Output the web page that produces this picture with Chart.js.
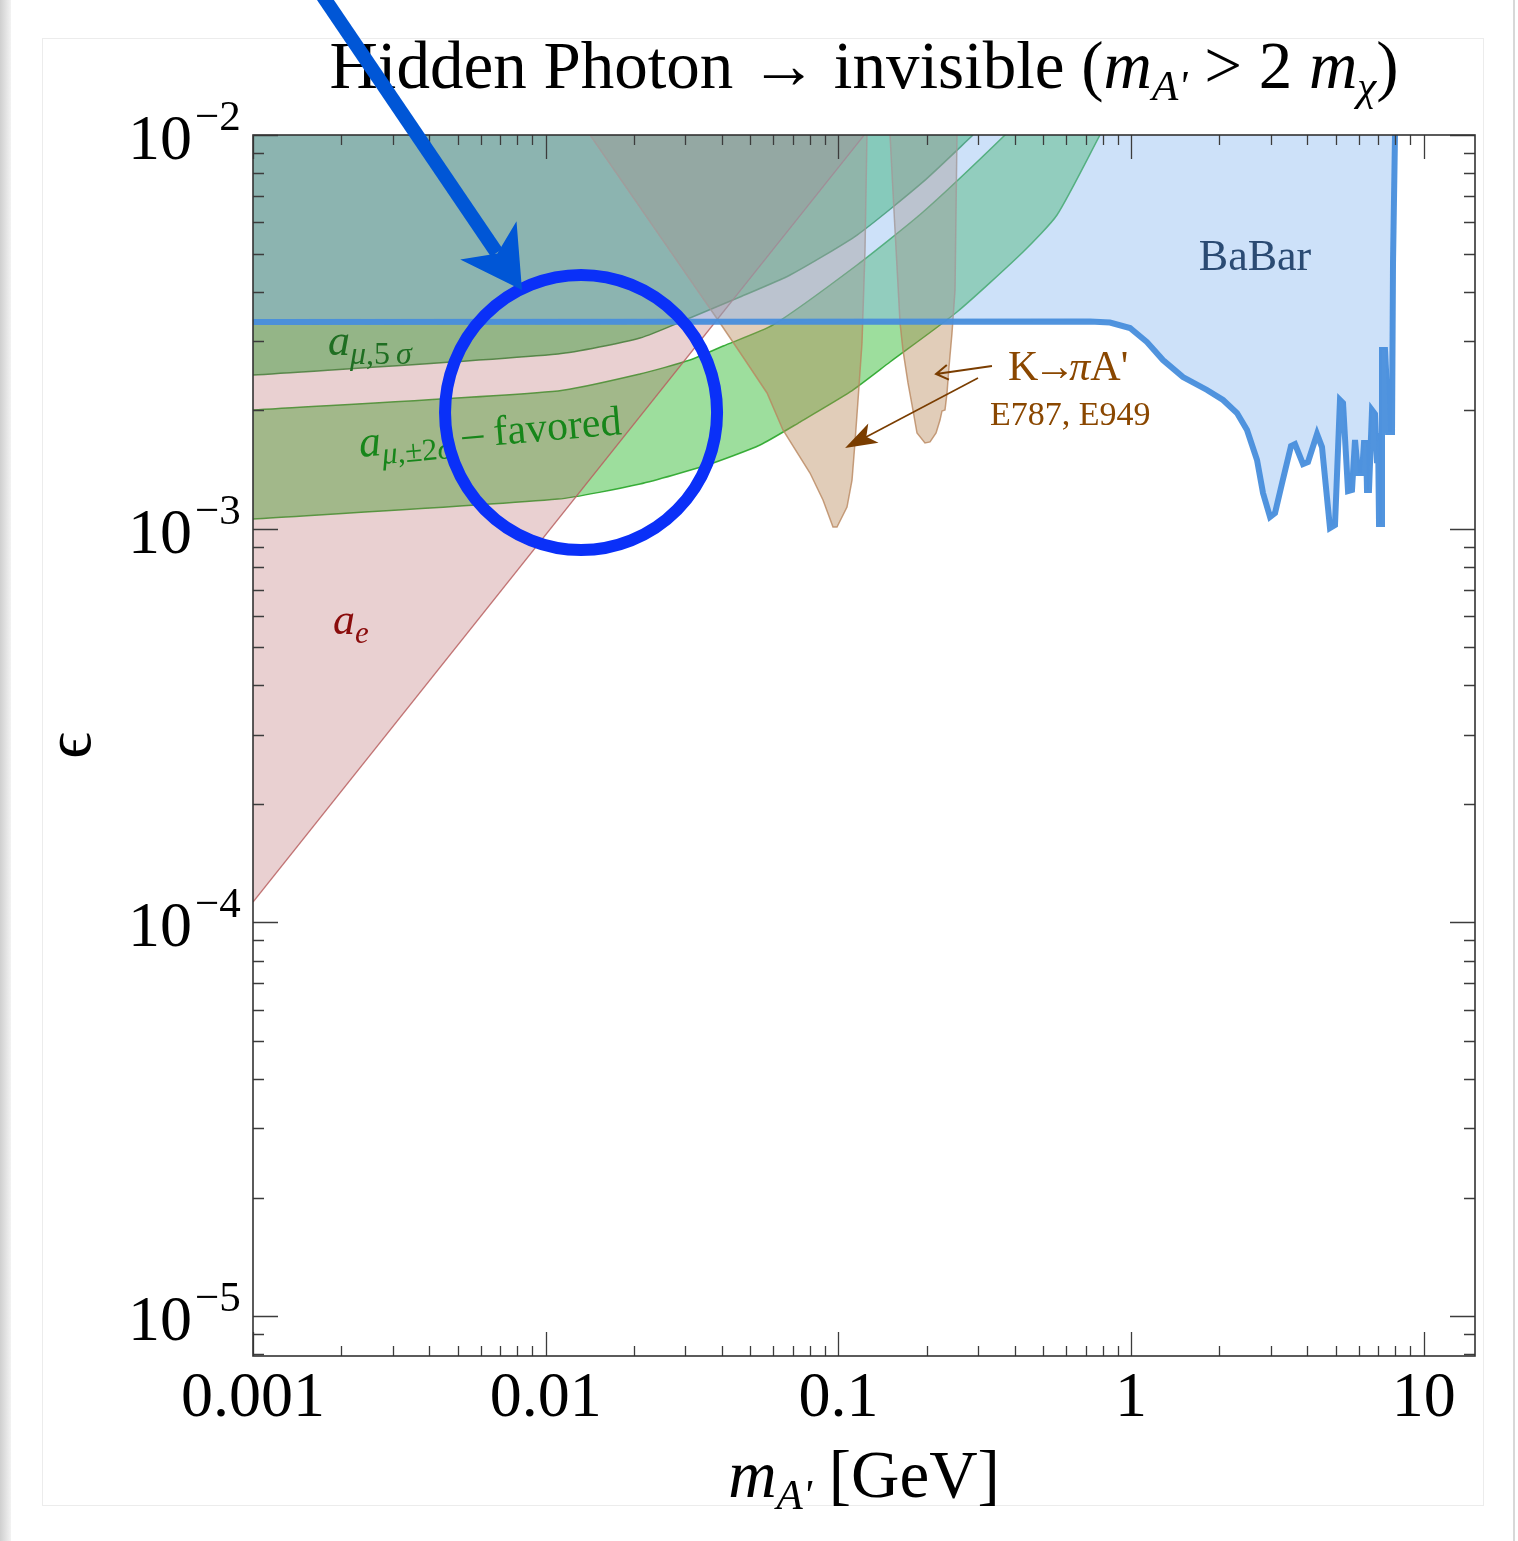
<!DOCTYPE html>
<html>
<head>
<meta charset="utf-8">
<title>Hidden Photon → invisible</title>
<script src="https://cdn.jsdelivr.net/npm/chart.js"></script>
<style>
  html, body { margin: 0; padding: 0; background: #fff; }
  #page { position: relative; width: 1518px; height: 1541px; overflow: hidden; background: #fff; }
  #page .rim { position: absolute; }
  #chart { position: absolute; left: 0; top: 0; }
</style>
</head>
<body>
<div id="page">
  <div class="rim" style="left:0;top:0;width:11px;height:1541px;background:linear-gradient(to right,#cfcfcf,#f3f3f3)"></div>
  <div class="rim" style="left:1513px;top:0;width:2px;height:1541px;background:#d8d8d8"></div>
  <div class="rim" style="left:42px;top:38px;width:1440px;height:1466px;border:1px solid #ececec"></div>
  <canvas id="chart" width="1518" height="1541"></canvas>
</div>
<script>
// axis ranges: mass in GeV, kinetic mixing epsilon
const xMin = 0.001, xMax = 14.96;
const yMin = 7.92e-6, yMax = 0.01;

const xTickValues = [0.001, 0.01, 0.1, 1, 10];
const xTickLabels = ['0.001', '0.01', '0.1', '1', '10'];
const yTickValues = [1e-2, 1e-3, 1e-4, 1e-5];
const yTickExps = ['\u22122', '\u22123', '\u22124', '\u22125'];

// region boundaries as [mass, epsilon]
const aeLine = [[0.001, 1.127e-4], [0.1225, 0.01]];

const mu5Lower = [[0.001, 2.457e-3], [0.01102, 2.778e-3], [0.021, 3.051e-3], [0.0311, 3.429e-3],
  [0.0461, 3.878e-3], [0.0684, 4.41e-3], [0.1158, 5.57e-3], [0.1946, 7.6e-3], [0.2884, 0.01]];

const mu2Upper = [[0.0009, 1.99e-3], [0.001, 2.002e-3], [0.01102, 2.238e-3], [0.021, 2.471e-3],
  [0.0311, 2.682e-3], [0.0404, 2.911e-3], [0.0598, 3.292e-3], [0.1158, 4.675e-3],
  [0.1946, 6.373e-3], [0.3709, 0.01], [0.8, 0.0177]];
const mu2Lower = [[0.0009, 1.055e-3], [0.001, 1.058e-3], [0.01102, 1.189e-3], [0.021, 1.299e-3],
  [0.0356, 1.451e-3], [0.054, 1.632e-3], [0.0739, 1.866e-3], [0.1096, 2.225e-3],
  [0.1501, 2.651e-3], [0.2542, 3.551e-3], [0.4273, 5.044e-3], [0.5583, 6.262e-3],
  [0.783, 0.01], [0.8, 0.0103]];

const kpiLeft = [[0.01417, 0.01], [0.0394, 3.33e-3], [0.04722, 2.73e-3], [0.05704, 2.212e-3],
  [0.06465, 1.781e-3], [0.07998, 1.385e-3], [0.08859, 1.183e-3], [0.09585, 1.01e-3],
  [0.0989, 1.01e-3], [0.107, 1.135e-3], [0.1113, 1.329e-3], [0.1139, 1.651e-3],
  [0.1167, 2.123e-3], [0.1204, 2.962e-3], [0.1233, 5.103e-3], [0.1252, 0.01]];
const kpiRight = [[0.1501, 0.01], [0.1561, 5.738e-3], [0.1624, 3.33e-3], [0.1662, 2.843e-3],
  [0.1729, 2.345e-3], [0.1798, 2.002e-3], [0.1856, 1.75e-3], [0.1976, 1.651e-3],
  [0.2056, 1.661e-3], [0.2156, 1.75e-3], [0.2224, 1.888e-3], [0.2259, 1.991e-3],
  [0.2313, 2.002e-3], [0.235, 2.212e-3], [0.2387, 2.574e-3], [0.2444, 3.142e-3],
  [0.2503, 4.04e-3], [0.2542, 0.01]];

const babar = [[0.001, 3.35e-3], [0.7238, 3.36e-3], [0.847, 3.34e-3], [0.9915, 3.234e-3],
  [1.133, 2.979e-3], [1.285, 2.682e-3], [1.504, 2.428e-3], [1.817, 2.251e-3], [2.061, 2.123e-3],
  [2.301, 1.967e-3], [2.489, 1.781e-3], [2.693, 1.494e-3], [2.823, 1.232e-3], [2.983, 1.071e-3],
  [3.103, 1.096e-3], [3.279, 1.306e-3], [3.518, 1.622e-3], [3.631, 1.641e-3], [3.867, 1.46e-3],
  [4.022, 1.477e-3], [4.317, 1.739e-3], [4.489, 1.612e-3], [4.781, 1.004e-3], [4.973, 1.022e-3],
  [5.172, 2.123e-3], [5.297, 2.086e-3], [5.51, 1.246e-3], [5.685, 1.254e-3], [5.821, 1.68e-3],
  [5.96, 1.385e-3], [6.15, 1.385e-3], [6.247, 1.651e-3], [6.347, 1.651e-3], [6.397, 1.254e-3],
  [6.498, 1.254e-3], [6.654, 2.002e-3], [6.812, 1.956e-3], [6.92, 1.468e-3], [6.976, 1.75e-3],
  [7.031, 1.028e-3], [7.198, 1.028e-3], [7.198, 2.843e-3], [7.37, 2.843e-3], [7.428, 2.53e-3],
  [7.546, 1.76e-3], [7.788, 1.76e-3], [7.849, 4.73e-3], [7.973, 0.01]];

// annotation anchors, [mass, epsilon]
const noteMu5 = [1.804e-3, 2.761e-3];
const noteMu2 = [2.32e-3, 1.521e-3];
const noteAe = [1.877e-3, 5.4e-4];
const noteBabar = [2.65, 4.54e-3];
const noteKpi = [0.3797, 2.386e-3];
const noteExp = [0.3295, 1.834e-3];
const kpiArrowA = [[0.3347, 2.59e-3], [0.2156, 2.471e-3]];
const kpiArrowB = [[0.2999, 2.414e-3], [0.1054, 1.603e-3]];
const ringMass = [4.53e-3, 0.0385];
const ringEps = [4.41e-3, 8.83e-4];
const pointerFrom = [1.72e-3, 0.0227];
const pointerTo = [8.3e-3, 4.04e-3];

const SERIF = "'Liberation Serif', 'DejaVu Serif', serif";
const toPts = arr => arr.map(([x, y]) => ({x, y}));

function logTicks(min, max) {
  const out = [];
  for (let e = Math.floor(Math.log10(min)); e <= Math.ceil(Math.log10(max)); e++) {
    for (let k = 1; k <= 9; k++) {
      const v = k * Math.pow(10, e);
      if (v >= min * 0.9999 && v <= max * 1.0001) out.push({v, major: k === 1});
    }
  }
  return out;
}

function drawRuns(ctx, runs, x, y, align) {
  let total = 0;
  for (const r of runs) { ctx.font = r.font; r.w = ctx.measureText(r.text).width + (r.gap || 0); total += r.w; }
  let cx = align === 'center' ? x - total / 2 : align === 'right' ? x - total : x;
  for (const r of runs) {
    ctx.font = r.font;
    ctx.fillStyle = r.color;
    ctx.fillText(r.text, cx, y + (r.dy || 0));
    cx += r.w;
  }
}

const overlay = {
  id: 'overlay',
  afterDatasetsDraw(chart) {
    const {ctx, chartArea: a, scales: {x, y}} = chart;
    const X = v => x.getPixelForValue(v);
    const Y = v => y.getPixelForValue(v);
    ctx.save();
    ctx.textAlign = 'left';
    ctx.textBaseline = 'alphabetic';

    // ticks on all four sides, pointing inward
    ctx.strokeStyle = '#3c3c3c';
    ctx.lineWidth = 1.3;
    ctx.beginPath();
    logTicks(xMin, xMax).forEach(t => {
      const p = Math.round(X(t.v)) + 0.5, len = t.major ? 24 : 10;
      ctx.moveTo(p, a.bottom); ctx.lineTo(p, a.bottom - len);
      ctx.moveTo(p, a.top); ctx.lineTo(p, a.top + len);
    });
    logTicks(yMin, yMax).forEach(t => {
      const p = Math.round(Y(t.v)) + 0.5, len = t.major ? 25 : 11;
      ctx.moveTo(a.left, p); ctx.lineTo(a.left + len, p);
      ctx.moveTo(a.right, p); ctx.lineTo(a.right - len, p);
    });
    ctx.stroke();
    ctx.lineWidth = 1.6;
    ctx.strokeStyle = '#333';
    ctx.strokeRect(a.left, a.top, a.right - a.left, a.bottom - a.top);

    // tick labels
    ctx.fillStyle = '#000';
    ctx.font = `64px ${SERIF}`;
    ctx.textAlign = 'center';
    xTickValues.forEach((v, i) => ctx.fillText(xTickLabels[i], X(v), a.bottom + 60));
    ctx.textAlign = 'left';
    yTickValues.forEach((v, i) => {
      const p = Y(v);
      drawRuns(ctx, [{text: '10', font: `64px ${SERIF}`, color: '#000'}], a.left - 61, p + 24, 'right');
      drawRuns(ctx, [{text: yTickExps[i], font: `43px ${SERIF}`, color: '#000'}], a.left - 58, p - 5, 'left');
    });

    // title and axis titles
    const cxMid = (a.left + a.right) / 2;
    drawRuns(ctx, [
      {text: 'Hidden Photon \u2192 invisible (', font: `67px ${SERIF}`, color: '#000'},
      {text: 'm', font: `italic 67px ${SERIF}`, color: '#000'},
      {text: "A'", font: `italic 43px ${SERIF}`, color: '#000', dy: 12},
      {text: ' > 2 ', font: `67px ${SERIF}`, color: '#000'},
      {text: 'm', font: `italic 67px ${SERIF}`, color: '#000'},
      {text: '\u03c7', font: `italic 43px ${SERIF}`, color: '#000', dy: 12},
      {text: ')', font: `67px ${SERIF}`, color: '#000'}
    ], cxMid, a.top - 47, 'center');
    drawRuns(ctx, [
      {text: 'm', font: `italic 67px ${SERIF}`, color: '#000'},
      {text: "A'", font: `italic 43px ${SERIF}`, color: '#000', dy: 12},
      {text: ' [GeV]', font: `67px ${SERIF}`, color: '#000'}
    ], cxMid, a.bottom + 141, 'center');
    ctx.save();
    ctx.translate(a.left - 178, (a.top + a.bottom) / 2);
    ctx.rotate(-Math.PI / 2);
    ctx.textAlign = 'center';
    ctx.font = `66px ${SERIF}`;
    ctx.fillStyle = '#000';
    ctx.fillText('\u03f5', 0, 15);
    ctx.restore();
    ctx.textAlign = 'left';

    // region labels
    drawRuns(ctx, [
      {text: 'a', font: `italic 44px ${SERIF}`, color: '#1f6e22'},
      {text: '\u03bc', font: `italic 32px ${SERIF}`, color: '#1f6e22', dy: 9},
      {text: ',5', font: `32px ${SERIF}`, color: '#1f6e22', dy: 9, gap: 6},
      {text: '\u03c3', font: `italic 32px ${SERIF}`, color: '#1f6e22', dy: 9}
    ], X(noteMu5[0]), Y(noteMu5[1]), 'left');
    ctx.save();
    ctx.translate(X(noteMu2[0]), Y(noteMu2[1]));
    ctx.rotate(-5 * Math.PI / 180);
    drawRuns(ctx, [
      {text: 'a', font: `italic 44px ${SERIF}`, color: '#17861a'},
      {text: '\u03bc', font: `italic 31px ${SERIF}`, color: '#17861a', dy: 9},
      {text: ',\u00b12', font: `31px ${SERIF}`, color: '#17861a', dy: 9},
      {text: '\u03c3', font: `italic 31px ${SERIF}`, color: '#17861a', dy: 9},
      {text: ' \u2013 favored', font: `42px ${SERIF}`, color: '#17861a'}
    ], 0, 0, 'left');
    ctx.restore();
    drawRuns(ctx, [
      {text: 'a', font: `italic 44px ${SERIF}`, color: '#8a0c0c'},
      {text: 'e', font: `italic 31px ${SERIF}`, color: '#8a0c0c', dy: 9}
    ], X(noteAe[0]), Y(noteAe[1]), 'left');
    drawRuns(ctx, [{text: 'BaBar', font: `44px ${SERIF}`, color: '#2b4b73'}],
      X(noteBabar[0]), Y(noteBabar[1]), 'center');
    drawRuns(ctx, [
      {text: 'K', font: `42px ${SERIF}`, color: '#8a4700', gap: -5},
      {text: '\u2192', font: `42px ${SERIF}`, color: '#8a4700', gap: -6},
      {text: '\u03c0', font: `italic 42px ${SERIF}`, color: '#8a4700'},
      {text: 'A\'', font: `42px ${SERIF}`, color: '#8a4700'}
    ], X(noteKpi[0]), Y(noteKpi[1]), 'left');
    drawRuns(ctx, [{text: 'E787, E949', font: `34px ${SERIF}`, color: '#8a4700'}],
      X(noteExp[0]), Y(noteExp[1]), 'left');

    // K -> pi A' arrows
    ctx.strokeStyle = '#7a3d00';
    ctx.fillStyle = '#7a3d00';
    ctx.lineWidth = 2;
    {
      const [p, q] = kpiArrowA.map(([m, e]) => [X(m), Y(e)]);
      const ang = Math.atan2(q[1] - p[1], q[0] - p[0]);
      ctx.beginPath();
      ctx.moveTo(p[0], p[1]); ctx.lineTo(q[0], q[1]);
      ctx.moveTo(q[0] + 14 * Math.cos(ang + Math.PI - 0.55), q[1] + 14 * Math.sin(ang + Math.PI - 0.55));
      ctx.lineTo(q[0], q[1]);
      ctx.lineTo(q[0] + 14 * Math.cos(ang + Math.PI + 0.55), q[1] + 14 * Math.sin(ang + Math.PI + 0.55));
      ctx.stroke();
    }
    {
      const [p, q] = kpiArrowB.map(([m, e]) => [X(m), Y(e)]);
      const ang = Math.atan2(q[1] - p[1], q[0] - p[0]);
      const ux = Math.cos(ang), uy = Math.sin(ang);
      ctx.lineWidth = 1.6;
      ctx.beginPath();
      ctx.moveTo(p[0], p[1]); ctx.lineTo(q[0] - ux * 20, q[1] - uy * 20);
      ctx.stroke();
      ctx.beginPath();
      ctx.moveTo(q[0], q[1]);
      ctx.lineTo(q[0] - ux * 32 - uy * 11, q[1] - uy * 32 + ux * 11);
      ctx.lineTo(q[0] - ux * 24, q[1] - uy * 24);
      ctx.lineTo(q[0] - ux * 32 + uy * 11, q[1] - uy * 32 - ux * 11);
      ctx.closePath();
      ctx.fill();
    }

    // blue ring and pointer
    const rx0 = X(ringMass[0]), rx1 = X(ringMass[1]);
    const ry0 = Y(ringEps[0]), ry1 = Y(ringEps[1]);
    ctx.strokeStyle = '#0a30f8';
    ctx.lineWidth = 12;
    ctx.beginPath();
    ctx.ellipse((rx0 + rx1) / 2, (ry0 + ry1) / 2, (rx1 - rx0) / 2, (ry1 - ry0) / 2, 0, 0, Math.PI * 2);
    ctx.stroke();

    const t0 = [X(pointerFrom[0]), Y(pointerFrom[1])];
    const t1 = [X(pointerTo[0]), Y(pointerTo[1])];
    const dx = t1[0] - t0[0], dy = t1[1] - t0[1], L = Math.hypot(dx, dy);
    const ux = dx / L, uy = dy / L;
    ctx.strokeStyle = '#0056d6';
    ctx.fillStyle = '#0056d6';
    ctx.lineWidth = 14;
    ctx.beginPath();
    ctx.moveTo(t0[0], t0[1]);
    ctx.lineTo(t1[0] - ux * 45, t1[1] - uy * 45);
    ctx.stroke();
    ctx.beginPath();
    ctx.moveTo(t1[0], t1[1]);
    ctx.lineTo(t1[0] - ux * 60 - uy * 34, t1[1] - uy * 60 + ux * 34);
    ctx.lineTo(t1[0] - ux * 44, t1[1] - uy * 44);
    ctx.lineTo(t1[0] - ux * 60 + uy * 34, t1[1] - uy * 60 - ux * 34);
    ctx.closePath();
    ctx.fill();

    ctx.restore();
  }
};

const common = {showLine: true, pointRadius: 0, pointHoverRadius: 0, tension: 0};

new Chart(document.getElementById('chart'), {
  type: 'scatter',
  data: {
    datasets: [
      {...common, label: 'a_mu +-2 sigma favored', data: toPts([...mu2Upper, ...mu2Lower.slice().reverse()]),
        fill: 'shape', tension: 0.2, backgroundColor: 'rgba(60,190,60,0.5)', borderColor: 'rgba(40,165,40,0.9)',
        borderWidth: 1.5, order: 6},
      {...common, label: 'a_mu 5 sigma', data: toPts(mu5Lower), fill: 'end', tension: 0.2,
        backgroundColor: 'rgba(20,180,50,0.5)', borderColor: 'rgba(30,140,45,0.85)', borderWidth: 1.5, order: 5},
      {...common, label: 'a_e', data: toPts(aeLine), fill: 'end',
        backgroundColor: 'rgba(175,85,90,0.28)', borderColor: 'rgba(185,95,95,0.85)', borderWidth: 1.3, order: 4},
      {...common, label: 'K->pi A\' (1)', data: toPts(kpiLeft), fill: 'end',
        backgroundColor: 'rgba(180,130,80,0.4)', borderColor: 'rgba(185,135,95,0.8)', borderWidth: 1.5, order: 3},
      {...common, label: 'K->pi A\' (2)', data: toPts(kpiRight), fill: 'end',
        backgroundColor: 'rgba(180,130,80,0.4)', borderColor: 'rgba(185,135,95,0.8)', borderWidth: 1.5, order: 2},
      {...common, label: 'BaBar', data: toPts(babar), fill: 'end',
        backgroundColor: 'rgba(130,180,240,0.4)', borderColor: 'rgba(72,142,220,0.95)', borderWidth: 6, order: 1}
    ]
  },
  options: {
    responsive: false,
    animation: false,
    devicePixelRatio: 1,
    events: [],
    layout: {padding: {left: 253, right: 43, top: 135, bottom: 185}},
    scales: {
      x: {type: 'logarithmic', min: xMin, max: xMax, display: false, bounds: 'data'},
      y: {type: 'logarithmic', min: yMin, max: yMax, display: false, bounds: 'data'}
    },
    plugins: {legend: {display: false}, tooltip: {enabled: false}}
  },
  plugins: [overlay]
});
</script>
</body>
</html>
